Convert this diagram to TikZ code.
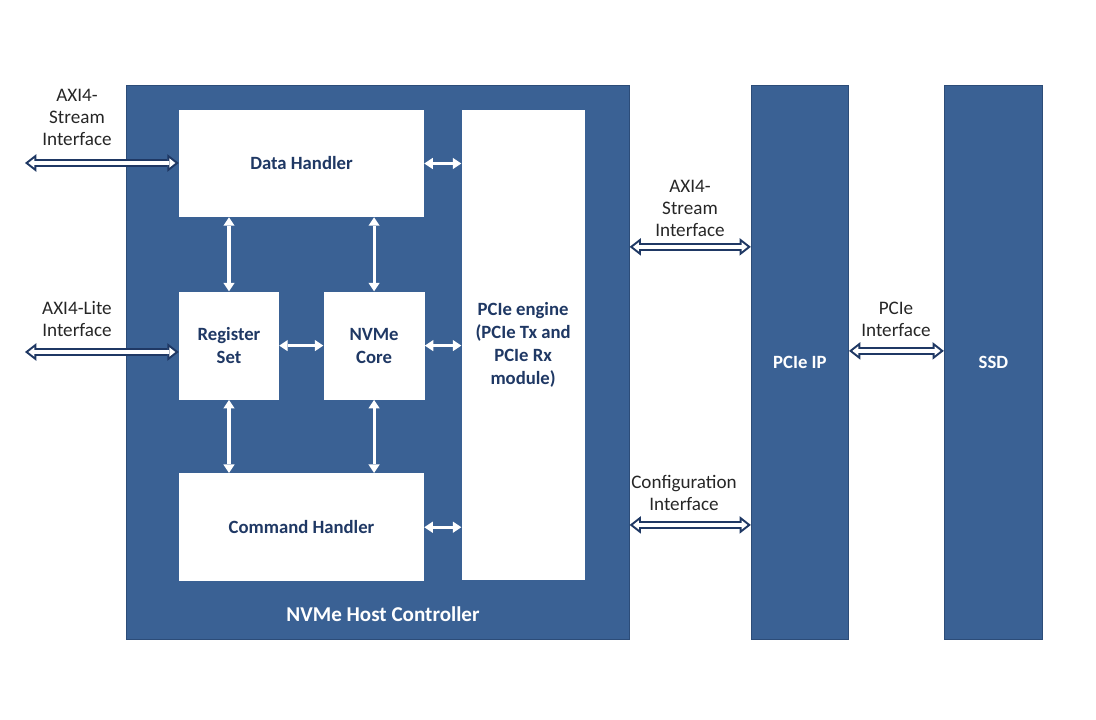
\documentclass[tikz,border=0pt]{standalone}
\usepackage{fontspec}
\setmainfont{Carlito}
\usetikzlibrary{arrows.meta,positioning}
\definecolor{nvblue}{HTML}{3A6194}
\definecolor{nvedge}{HTML}{2C4C78}
\definecolor{nvtext}{HTML}{1F3864}
\definecolor{nvgray}{HTML}{262626}
\newcommand{\pipeline}[2]{%
  \draw[pipe] #1 -- #2;
  \draw[pipein] #1 -- #2;}

\begin{document}
\begin{tikzpicture}[x=0.025cm, y=-0.025cm, font=\fontsize{13.6}{15.6}\selectfont,
  blk/.style={draw=nvedge, fill=nvblue, line width=0.8pt, inner sep=0pt},
  sub/.style={fill=white, text=nvtext, font=\fontsize{13.3}{16.4}\selectfont\bfseries, align=center, inner sep=0pt},
  lbl/.style={align=center, text=nvgray},
  link/.style={white, line width=2.2pt, {Triangle[length=6pt,width=8pt,line width=0pt]}-{Triangle[length=6pt,width=8pt,line width=0pt]}},
  pipe/.style={nvtext, line width=5.8pt, {Triangle[length=8pt,width=12.5pt,line width=0pt]}-{Triangle[length=8pt,width=12.5pt,line width=0pt]}},
  pipein/.style={white, line width=3pt, shorten <=2.4pt, shorten >=2.4pt, {Triangle[length=4.2pt,width=6.6pt,line width=0pt]}-{Triangle[length=4.2pt,width=6.6pt,line width=0pt]}}]
  \useasboundingbox (0,0) rectangle (1096,720);

  % blocks
  \node[blk, minimum width=12.55cm, minimum height=13.825cm] (host) at (378,362.5) {};
  \node[blk, right=3.03cm of host, minimum width=2.425cm, minimum height=13.825cm, text=white, font=\fontsize{13.3}{15}\selectfont\bfseries] (pcieip) {PCIe IP};
  \node[blk, right=2.37cm of pcieip, minimum width=2.45cm, minimum height=13.825cm, text=white, font=\fontsize{13.3}{15}\selectfont\bfseries] (ssd) {SSD};
  \node[text=white, font=\fontsize{15}{17}\selectfont\bfseries] (hostlbl) at (383,614) {NVMe Host Controller};

  % inside the host controller
  \node[sub, minimum width=6.125cm, minimum height=2.675cm] (data) at (301.5,163.5) {Data Handler};
  \node[sub, below=1.85cm of data.south west, anchor=north west, minimum width=2.5cm, minimum height=2.7cm] (reg) {Register\\Set};
  \node[sub, right=1.1cm of reg, minimum width=2.525cm, minimum height=2.7cm] (core) {NVMe\\Core};
  \node[sub, below=1.825cm of reg.south west, anchor=north west, minimum width=6.125cm, minimum height=2.7cm] (cmd) {Command Handler};
  \node[sub, right=0.925cm of data.north east, anchor=north west, minimum width=3.075cm, minimum height=11.75cm] (engine) {PCIe engine\\(PCIe Tx and\\PCIe Rx\\module)};

  \draw[link] (data.east) -- (data.east -| engine.west);
  \draw[link] (cmd.east) -- (cmd.east -| engine.west);
  \draw[link] (reg) -- (core);
  \draw[link] (core.east) -- (core.east -| engine.west);
  \draw[link] (reg.north) -- (reg.north |- data.south);
  \draw[link] (core.north) -- (core.north |- data.south);
  \draw[link] (reg.south) -- (reg.south |- cmd.north);
  \draw[link] (core.south) -- (core.south |- cmd.north);

  % interfaces
  \coordinate (axisin) at (25,163);
  \coordinate (axilite) at (25,352);
  \node[lbl] (axisinlbl) at (77,117) {AXI4-\\Stream\\Interface};
  \node[lbl] (axilitelbl) at (77,319) {AXI4-Lite\\Interface};
  \node[lbl] (axisoutlbl) at (690,208) {AXI4-\\Stream\\Interface};
  \node[lbl] (cfglbl) at (684,493) {Configuration\\Interface};
  \node[lbl] (pcielbl) at (896,319) {PCIe\\Interface};

  \pipeline{(axisin)}{(axisin -| data.west)}
  \pipeline{(axilite)}{(axilite -| reg.west)}
  \pipeline{([yshift=2.89cm]host.east)}{([yshift=2.89cm]pcieip.west)}
  \pipeline{([yshift=-4.06cm]host.east)}{([yshift=-4.06cm]pcieip.west)}
  \pipeline{([yshift=0.29cm]pcieip.east)}{([yshift=0.29cm]ssd.west)}
\end{tikzpicture}
\end{document}
